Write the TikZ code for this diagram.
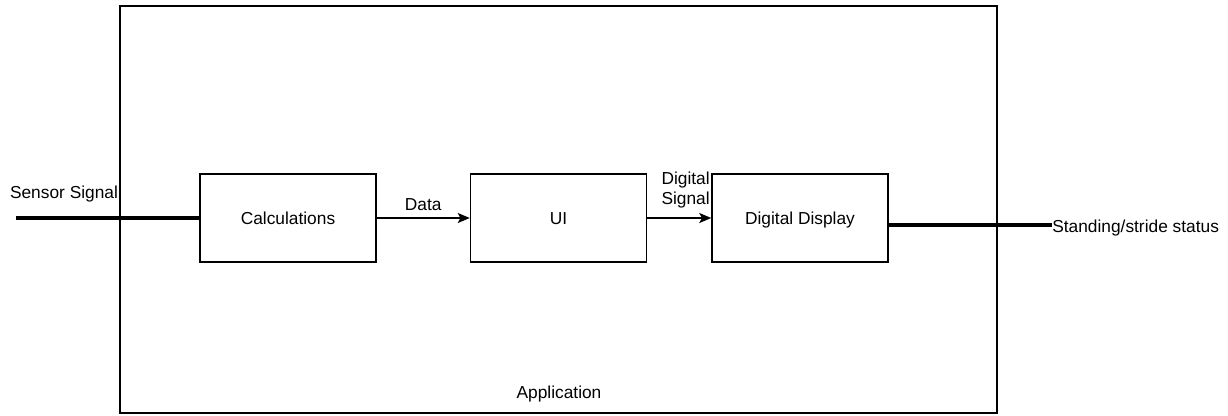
\documentclass[tikz,border=0pt]{standalone}
\usepackage{fontspec}
\setmainfont{Liberation Sans}
\usepackage{tikz}
\usetikzlibrary{arrows.meta}

\begin{document}
\begin{tikzpicture}[x=0.75pt, y=-0.75pt,
  every node/.style={font=\fontsize{13}{15}\selectfont},
  blockbox/.style={draw, line width=1.1pt, minimum width=132pt, minimum height=66pt, inner sep=0pt, text height=9.5pt, text depth=0pt},
  flow/.style={line width=1.1pt, -{Stealth[length=9pt, width=7.5pt, inset=2pt]}},
  heavy/.style={line width=2.6pt},
  lbl/.style={inner sep=0pt}]
\useasboundingbox (0,0) rectangle (1228,415);
\node[draw, line width=1.1pt, minimum width=657.75pt, minimum height=305.25pt, inner sep=0pt] (app) at (558.5,209.5) {};
\node[lbl, anchor=base] (applbl) at (559,398) {Application};
\node[blockbox] (calc) at (288,218) {Calculations};
\node[blockbox] (ui) at (558.5,218) {UI};
\node[blockbox] (disp) at (800,218) {Digital Display};
\coordinate (sin) at (16,218);
\node[lbl, anchor=base] (sensor) at (64,198) {Sensor Signal};
\node[lbl, anchor=base west] (status) at (1052,232) {Standing/stride status};
\coordinate (sout) at ([yshift=-5.25pt]disp.east);
\draw[heavy] (sin) -- (calc.west);
\draw[flow] (calc.east) -- node[lbl, anchor=base, yshift=6pt] (datalbl) {Data} (ui.west);
\draw[flow] (ui.east) -- (disp.west);
\node[lbl, anchor=east, align=right] (siglbl) at (710,190) {Digital\\Signal};
\draw[heavy] (sout) -- (sout -| status.west);
\end{tikzpicture}
\end{document}
